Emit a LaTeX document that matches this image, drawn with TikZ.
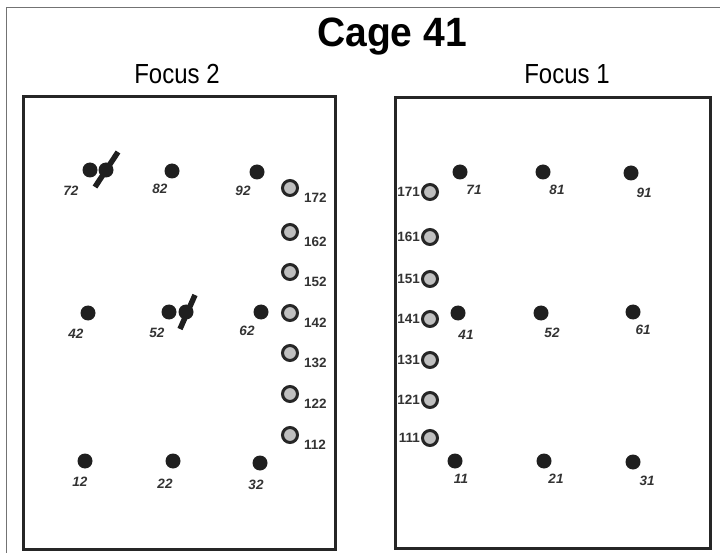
\documentclass[tikz,border=0pt]{standalone}
\usepackage{fontspec}
\setmainfont{Liberation Sans}
\begin{document}
\begin{tikzpicture}[x=1pt,y=-1pt,
  dot/.style={circle, fill=black!88, minimum width=14pt, minimum height=15pt, inner sep=0pt},
  ring/.style={circle, draw=black!85, line width=3pt, fill=black!25, minimum size=15pt, inner sep=0pt},
  dlab/.style={font=\fontsize{13.5}{13}\selectfont\bfseries\itshape, text=black!80, inner sep=0pt},
  clab/.style={font=\fontsize{13.5}{13}\selectfont\bfseries, text=black!80, inner sep=0pt},
  boxline/.style={draw=black!85, line width=3pt},
  slash/.style={draw=black!88, line width=5.5pt}]
\useasboundingbox (0,0) rectangle (720,553);
\fill[white] (0,0) rectangle (720,553);
% outer frame
\draw[black!55, line width=1pt] (6,553) -- (6,8) -- (720,8);
% titles
\node[font=\fontsize{39}{39}\selectfont\bfseries, inner sep=0pt, yscale=1.05] (title) at (392,37) {Cage 41};
\node[font=\fontsize{24}{24}\selectfont, inner sep=0pt, yscale=1.15] (f2) at (177,74) {Focus 2};
\node[font=\fontsize{24}{24}\selectfont, inner sep=0pt, yscale=1.15] (f1) at (567,74) {Focus 1};
% boxes
\draw[boxline] (23,97) rectangle (335,549);
\draw[boxline] (395,98) rectangle (710,548);
% ---------- Focus 2 (left box) ----------
\node[dot] (d72) at (90,170) {};
\node[dot] (s72) at (106,170) {};
\draw[slash] (s72) ++(-11,17) -- ++(23,-35);
\node[dlab] (l72) at (71,191) {72};
\node[dot] (d82) at (172,171) {};
\node[dlab] (l82) at (160,189) {82};
\node[dot] (d92) at (257,172) {};
\node[dlab] (l92) at (243,191) {92};
\node[dot] (d42) at (88,313) {};
\node[dlab] (l42) at (76,334) {42};
\node[dot] (d52) at (169,312) {};
\node[dot] (s52) at (186,312) {};
\draw[slash] (s52) ++(-6,17) -- ++(15,-34);
\node[dlab] (l52) at (157,333) {52};
\node[dot] (d62) at (261,312) {};
\node[dlab] (l62) at (247,331) {62};
\node[dot] (d12) at (85,461) {};
\node[dlab] (l12) at (80,482) {12};
\node[dot] (d22) at (173,461) {};
\node[dlab] (l22) at (165,484) {22};
\node[dot] (d32) at (260,463) {};
\node[dlab] (l32) at (256,485) {32};
\foreach \n/\y in {172/188,162/232,152/272,142/313,132/353,122/394,112/435}{
  \node[ring] (c\n) at (290,\y) {};
  \node[clab, anchor=west] (lc\n) at (304,\y+10) {\n};
}
% ---------- Focus 1 (right box) ----------
\node[dot] (d71) at (460,172) {};
\node[dlab] (l71) at (474,190) {71};
\node[dot] (d81) at (543,172) {};
\node[dlab] (l81) at (557,190) {81};
\node[dot] (d91) at (631,173) {};
\node[dlab] (l91) at (644,193) {91};
\node[dot] (d41) at (458,313) {};
\node[dlab] (l41) at (466,335) {41};
\node[dot] (d521) at (541,313) {};
\node[dlab] (l521) at (552,333) {52};
\node[dot] (d61) at (633,312) {};
\node[dlab] (l61) at (643,330) {61};
\node[dot] (d11) at (455,461) {};
\node[dlab] (l11) at (461,479) {11};
\node[dot] (d21) at (544,461) {};
\node[dlab] (l21) at (556,479) {21};
\node[dot] (d31) at (633,462) {};
\node[dlab] (l31) at (647,481) {31};
\foreach \n/\y in {171/192,161/237,151/279,141/319,131/360,121/400,111/438}{
  \node[ring] (c\n) at (430,\y) {};
  \node[clab, anchor=east] (lc\n) at (420,\y) {\n};
}
\end{tikzpicture}
\end{document}
